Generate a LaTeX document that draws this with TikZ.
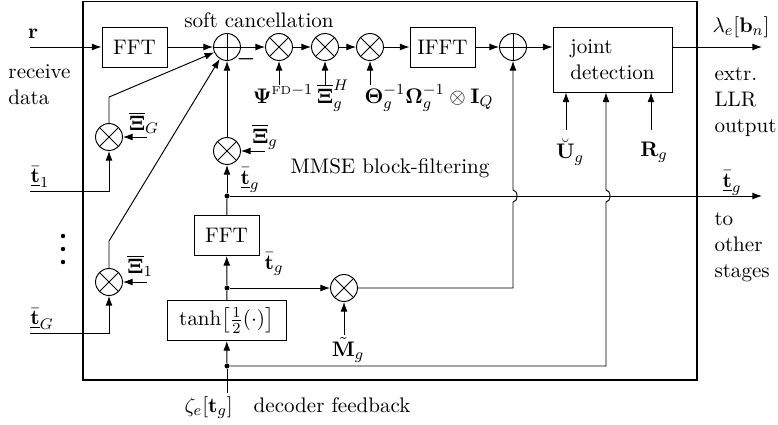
\documentclass[tikz,border=0pt,11pt]{standalone}
\usepackage{amsmath,amssymb}
\usetikzlibrary{arrows.meta}

\begin{document}
\begin{tikzpicture}[
    x=0.52pt, y=-0.52pt, line width=0.5pt,
    blk/.style={
      draw, align=center,
      minimum width=33.8pt, minimum height=20.8pt,
      inner sep=1pt
    },
    opnode/.style={draw, circle, minimum size=14pt, inner sep=0pt},
    mult/.style={opnode, path picture={
        \draw (path picture bounding box.north west) -- (path picture bounding box.south east)
              (path picture bounding box.north east) -- (path picture bounding box.south west);}},
    add/.style={opnode, path picture={
        \draw (path picture bounding box.north) -- (path picture bounding box.south)
              (path picture bounding box.west) -- (path picture bounding box.east);}},
    junc/.style={circle, fill, inner sep=0pt, minimum size=2.6pt},
    arr/.style={-{Latex[length=5pt,width=3.6pt]}}
  ]
    \useasboundingbox (0,0) rectangle (778,424);

    % frame of the stage
    \draw[line width=1pt] (83,1.5) rectangle (697,380);

    % forward path
    \node[blk] (fft1) at (134.5,47) {FFT};
    \node[add] (sc) at (227,47) {};
    \node[mult] (m1) at (279,47) {};
    \node[mult] (m2) at (325,47) {};
    \node[mult] (m3) at (370,47) {};
    \node[blk] (ifft) at (442.5,47) {IFFT};
    \node[add] (s2) at (513,47) {};
    \node[blk, minimum width=61.9pt, minimum height=33.8pt, align=left] (jd) at (612.5,59.5) {joint\\detection};

    % feedback column
    \node[mult] (mG) at (109,137) {};
    \node[mult] (mone) at (109,282) {};
    \node[mult] (mg) at (227,151) {};
    \node[junc] (j1) at (227,196) {};
    \node[blk] (fft2) at (226.5,235.5) {FFT};
    \node[junc] (j2) at (227,288) {};
    \node[mult] (mM) at (344,288) {};
    \node[blk, minimum width=61.9pt] (th) at (226.5,320.5) {$\tanh\!\big[\tfrac{1}{2}(\cdot)\big]$};
    \node[junc] (j3) at (227,366) {};

    % free ends
    \coordinate (rin) at (30,47);
    \coordinate (tonein) at (30,191);
    \coordinate (tGin) at (30,333);
    \coordinate (zin) at (227,393);
    \coordinate (lout) at (762,47);
    \coordinate (tout) at (762,196);
    \coordinate (xiGin) at (147,137);
    \coordinate (xioin) at (147,282);
    \coordinate (xigin) at (265,151);
    \coordinate (uin) at (566,130);
    \coordinate (rgin) at (651,130);
    \coordinate (fbk) at (606,366);

    % labels
    \node at (33,34) {$\mathbf{r}$};
    \node[anchor=west, align=left] at (1,85) {receive\\data};
    \node at (259,20) {soft cancellation};
    \node at (246,59) {$\boldsymbol{-}$};
    \node[anchor=base] at (283,103) {$\boldsymbol{\Psi}^{\text{\tiny FD}-1}$};
    \node[anchor=base] at (333,103) {$\overline{\boldsymbol{\Xi}}_g^{H}$};
    \node[anchor=base] at (429,103) {$\boldsymbol{\Theta}_g^{-1}\boldsymbol{\Omega}_g^{-1}\otimes\mathbf{I}_Q$};
    \node at (741,27) {$\lambda_e[\mathbf{b}_n]$};
    \node[anchor=north west, align=left] at (707,60) {extr.\\LLR\\output};
    \node at (570,152) {$\breve{\mathbf{U}}_g$};
    \node at (654,152) {$\mathbf{R}_g$};
    \node at (390,168) {MMSE block-filtering};
    \node at (732,183) {$\underline{\bar{\mathbf{t}}}_g$};
    \node[anchor=north west, align=left] at (707,205) {to\\other\\stages};
    \node at (144,123) {$\overline{\boldsymbol{\Xi}}_G$};
    \node at (140,266) {$\overline{\boldsymbol{\Xi}}_1$};
    \node at (265,137) {$\overline{\boldsymbol{\Xi}}_g$};
    \node at (40,177) {$\underline{\bar{\mathbf{t}}}_1$};
    \node at (42,319) {$\underline{\bar{\mathbf{t}}}_G$};
    \node at (250,180) {$\underline{\bar{\mathbf{t}}}_g$};
    \node at (274,264) {$\bar{\mathbf{t}}_g$};
    \node at (348,350) {$\tilde{\mathbf{M}}_g$};
    \node[anchor=west] at (177,408) {$\zeta_e[\mathbf{t}_g]$\quad decoder feedback};
    \foreach \y in {236,249,262}
      \fill (63,\y) circle (2.2);

    % connections along the top
    \draw[arr] (rin) -- (fft1);
    \draw[arr] (fft1) -- (sc);
    \draw[arr] (sc) -- (m1);
    \draw[arr] (m1) -- (m2);
    \draw[arr] (m2) -- (m3);
    \draw[arr] (m3) -- (ifft);
    \draw[arr] (ifft) -- (s2);
    \draw[arr] (s2) -- (s2 -| jd.west);
    \draw[arr] (lout -| jd.east) -- (lout);
    \foreach \m in {m1,m2,m3}
      \draw[arr] (\m) ++(0,38) -- (\m);
    \draw[arr] (uin) -- (uin |- jd.south);
    \draw[arr] (rgin) -- (rgin |- jd.south);

    % interference branches
    \draw[arr] (tonein) -| (mG);
    \draw[arr] (tGin) -| (mone);
    \draw[arr] (xiGin) -- (mG);
    \draw[arr] (xioin) -- (mone);
    \draw[arr] (mG.north) -- ++(0,-26) -- (sc);
    \draw[arr] (mone.north) -- ++(0,-27) -- (sc);

    % own-group branch
    \draw[arr] (xigin) -- (mg);
    \draw[arr] (j1) -- (mg);
    \draw[arr] (mg) -- (sc);
    \draw (fft2) -- (j1);
    \draw[arr] (j1) -- (tout);
    \draw[arr] (j2) -- (fft2);
    \draw (th) -- (j2);
    \draw[arr] (j2) -- (mM);
    \draw[arr] (mM) ++(0,47) -- (mM);
    \draw[arr] (j3) -- (th);
    \draw (zin) -- (j3);

    % lines hopping over the tbar_g line
    \draw[arr] (mM) -- (513,288) -- (513,202)
      arc[start angle=90, end angle=-90, x radius=4, y radius=6] -- (s2);
    \draw[arr] (j3) -- (fbk) -- (fbk |- 0,202)
      arc[start angle=90, end angle=-90, x radius=4, y radius=6] -- (fbk |- jd.south);
  \end{tikzpicture}
\end{document}
